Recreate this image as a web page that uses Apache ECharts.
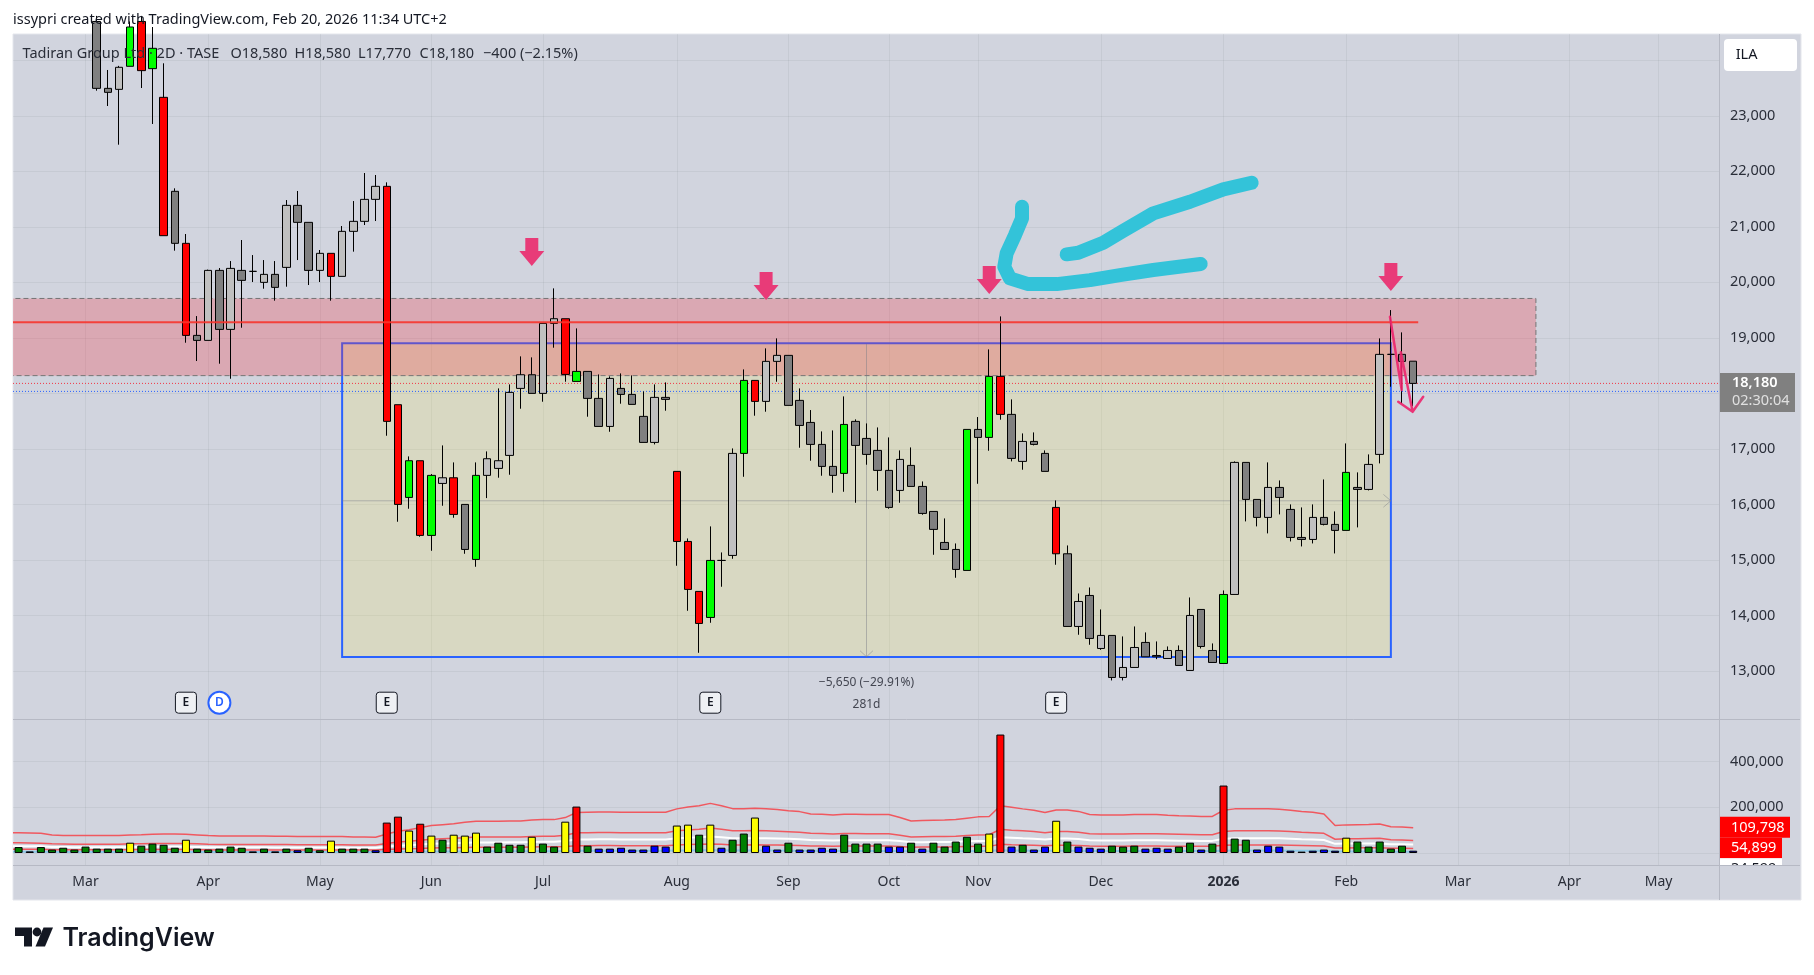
<!DOCTYPE html>
<html>
<head>
<meta charset="utf-8">
<style>
  html, body { margin: 0; padding: 0; background: #fff; }
  #chart { width: 1814px; height: 975px; }
</style>
<script src="https://cdn.jsdelivr.net/npm/echarts@6/dist/echarts.min.js"></script>
</head>
<body>
<div id="chart"></div>
<script>
// barras de 2 dias, la primera vela visible es la barra 7 (las anteriores quedan sobre el panel)
const hiddenBars = 7;
const barCount = 153;

const opens = [24700,23495,23477,23892,24700,23850,23333,21640,20703,19045,18955,20216,19153,20216,20198,20000,20144,20270,21387,21081,20216,20523,20108,20919,21099,21495,21730,17796,16126,16787,15442,16378,16480,16000,15009,16523,16649,16883,18090,18336,18000,19261,19345,18216,18396,17910,17405,18090,17982,17586,17117,17928,16595,15333,14433,13964,14991,15081,16919,18234,17856,18577,18685,17874,17477,17081,16685,16559,17496,17189,16973,16613,16252,16703,16324,15874,15315,15189,14811,17351,17207,18306,17622,16775,17135,16919,15946,15111,13802,14360,13405,13640,12883,13063,13514,13279,13225,13369,13009,14108,13369,13135,14378,16757,16090,15766,16306,15910,15405,15369,15766,15640,15532,16306,16270,16901,18703,18703,18580];
const closes = [23495,23423,23874,24600,23814,24216,20841,20703,19045,18955,20216,19153,20252,20036,20198,20144,19910,21387,21081,20216,20523,20108,20919,21099,21495,21730,17496,16000,16787,15442,16523,16480,15820,15189,16523,16823,16787,18018,18336,18000,19261,19345,18342,18396,17910,17405,18270,17982,17802,17117,17928,17892,15333,14469,13856,14991,14991,16919,18234,17856,18577,18685,17784,17423,17081,16685,16523,17441,17063,16901,16613,15946,16811,16324,15838,15550,15189,14829,17351,17207,18306,17622,16829,17135,17081,16595,15111,13802,14252,13586,13640,12883,13063,13423,13255,13255,13369,13099,14000,13441,13153,14378,16757,16090,15766,16306,16126,15405,15369,15766,15640,15532,16577,16270,16721,18703,18703,18577,18180];
const lows = [23453,23177,22480,23892,23501,22853,20841,20571,18913,18583,18955,18535,18264,19183,20006,19886,19670,19922,20402,19952,20006,19670,20108,20553,21033,21105,17237,15688,15922,15418,15165,15976,15760,15111,14877,16114,16481,16535,17724,18000,17850,18823,18210,18216,17580,17405,17309,17814,17802,17117,17081,17688,14895,14084,13327,13868,14517,15021,16498,17598,17670,18210,17784,17021,16787,16517,16210,16228,16030,16715,16246,15922,16030,16324,15814,15093,15189,14679,14811,16372,16967,17526,16775,16625,17063,16595,14913,13802,13652,13472,13381,12829,12829,13063,13255,13213,13225,13099,13009,13405,13153,13135,14378,15694,15604,15478,15820,15333,15243,15297,15622,15117,15532,15586,16252,16739,18120,17820,17770];
const highs = [24800,23826,23900,24700,24800,24600,23946,21694,20871,19393,20230,20258,20384,20763,20492,20402,20384,21483,21646,21081,20583,20523,21015,21465,21970,21934,21802,17796,16865,16787,16547,17063,16757,16000,16757,16955,18090,18162,18667,18649,19261,19892,19345,19171,18396,18342,18306,18360,18324,18036,18162,18198,16595,15387,14433,15604,15135,17009,18432,18234,18811,18991,18685,18090,17700,17315,17333,17946,17532,17459,17387,17207,16973,17027,16414,15874,15748,15297,17351,17574,18793,19387,17892,17279,17297,16973,16072,15261,14396,14504,14108,13640,13622,13802,13694,13532,13442,13460,14324,14108,13496,14450,16775,16757,16090,16757,16432,16000,15946,16000,16450,15874,17099,16577,16901,18991,19501,19099,18580];
// r rojo, g verde, u subida normal, d bajada normal
const candleKinds = ['ddugrgrdrd','ududdududd','uruuuurrgr','gurdguuuud','uurgdduddd','udrrrgdugr','uudddddgdd','ddudddddgd','grduddrdud','uduuddudud','dguddudddu','ddgduuddd'].join('');
const candleFill = { r: '#ff0000', g: '#00ff00', u: '#c0c0c0', d: '#808080' };

const volumes = [26,7,26,15,23,15,28,19,19,19,45,32,41,36,23,58,19,15,19,28,23,7,19,7,19,12,23,12,54,19,19,19,12,133,159,98,128,76,58,80,76,89,28,45,36,36,71,41,28,137,203,32,19,19,23,15,15,32,28,120,124,80,124,23,58,85,155,32,15,45,15,15,23,19,80,41,41,41,28,28,45,19,45,28,50,71,41,85,518,28,36,15,28,141,50,28,23,19,32,28,32,19,23,19,28,45,15,41,295,63,58,15,32,28,10,6,10,15,10,67,50,28,50,19,32,10];
const volumeKinds = ['gbgggggggg','yggggygggg','gbgbgbggyg','ggbrryrygy','yyggggyggy','rgbbbbbbby','ygybggybbg','bbbbggggbb','gbgggggyrb','gbbygbbbgg','gbbbggbgrg','gbbbbbbbby','gggggb'].join('');
const volumeFill = { g: '#007f00', b: '#0000ff', y: '#ffff00', r: '#ff0000' };
const upperBand = [89,88,86,79,77,76,76,76,76,76,79,80,82,83,83,82,79,76,74,74,74,74,74,73,73,72,72,72,72,72,70,70,69,83,95,102,111,120,124,128,134,139,139,139,140,140,144,146,146,155,177,178,179,179,178,178,178,178,178,193,201,207,217,207,194,194,196,193,190,185,181,171,169,166,169,169,168,168,168,155,140,142,143,144,146,152,158,160,207,200,193,187,177,188,188,182,168,166,166,166,168,168,168,165,163,162,160,160,187,193,193,193,193,191,187,181,178,171,120,123,124,125,127,115,114,110];
const midBand = [45,44,43,40,39,38,38,38,38,38,40,40,41,42,42,41,40,38,37,37,37,37,37,37,37,36,36,36,36,36,35,35,35,42,48,51,56,60,62,64,67,70,70,70,70,70,72,73,73,78,89,89,90,90,89,89,89,89,89,97,101,104,109,104,97,97,98,97,95,93,91,86,85,83,85,85,84,84,84,78,70,71,72,72,73,76,79,80,104,100,97,94,89,94,94,91,84,83,83,83,84,84,84,83,82,81,80,80,94,97,97,97,97,96,94,91,89,86,60,62,62,63,64,58,57,55];
const whiteBand = [30,29,29,26,26,25,25,25,25,25,26,27,27,28,28,27,26,25,25,25,25,25,25,24,24,24,24,24,24,24,23,23,23,28,32,34,37,40,41,43,45,46,46,46,47,47,48,49,49,52,59,59,60,60,59,59,59,59,59,64,67,69,72,69,65,65,65,64,63,62,60,57,56,55,56,56,56,56,56,52,47,47,48,48,49,51,53,53,69,67,64,62,59,63,63,61,56,55,55,55,56,56,56,55,54,54,53,53,62,64,64,64,64,64,62,60,59,57,40,41,41,42,42,38,38,37];
const lowerBand = [16,16,16,14,14,14,14,14,14,14,14,15,15,15,15,15,14,14,13,13,13,13,13,13,13,13,13,13,13,13,13,13,13,15,17,19,20,22,23,23,24,25,25,25,25,25,26,27,27,28,32,32,33,33,32,32,32,32,32,35,37,38,39,38,35,35,36,35,35,34,33,31,31,30,31,31,31,31,31,28,25,26,26,26,27,28,29,29,38,36,35,34,32,34,34,33,31,30,30,30,31,31,31,30,30,29,29,29,34,35,35,35,35,35,34,33,32,31,22,22,23,23,23,21,21,20];
const baseBand = [5,5,5,4,4,4,4,4,4,4,4,4,4,4,4,4,4,4,4,4,4,4,4,4,4,4,4,4,4,4,4,4,4,5,5,6,6,7,7,7,7,8,8,8,8,8,8,8,8,9,10,10,10,10,10,10,10,10,10,11,11,12,12,12,11,11,11,11,11,10,10,10,9,9,9,9,9,9,9,9,8,8,8,8,8,8,9,9,12,11,11,10,10,10,10,10,9,9,9,9,9,9,9,9,9,9,9,9,10,11,11,11,11,11,10,10,10,10,7,7,7,7,7,6,6,6];

const monthBars = [6,17,27,37,47,59,69,78,86,97,108,119,129,139,147];
const monthLabels = ['Mar','Apr','May','Jun','Jul','Aug','Sep','Oct','Nov','Dec','2026','Feb','Mar','Apr','May'];
const priceTicks = [13000,14000,15000,16000,17000,18000,19000,20000,21000,22000,23000,24000];
const priceLabels = [13000,14000,15000,16000,17000,18000,19000,20000,21000,22000,23000];
const volumeTicks = [0,200000,400000];
const volumeLabels = [200000,400000];

// dibujos sobre el grafico
const boxBars = [29,123], boxPrices = [18905,13250];
const zoneBars = [-1,136], zonePrices = [19710,18320];
const resistanceBars = [-0.5,125.45], resistancePrice = 19280;
const lastPrice = 18180, otherPriceLine = 18036;
const measureH = [[29,16065],[123,16065]];
const measureV = [[76,18890],[76,13250]];
const chevronRight = [[122.33,16180],[123,16065],[122.33,15950]];
const chevronDown = [[75.42,13365],[76,13255],[76.58,13365]];
const arrowBars = [46,67,87,123];
const arrowTips = [20294,19681,19789,19843];
const eventBars = [15,33,62,93,18];
const eventLetters = ['E','E','E','E','D'];
const hookStroke = [[89.94,21362],[89.94,21153],[89.31,20852],[88.56,20522],[88.35,20281],[88.86,20072],[90.5,19969],[93.05,19969],[96.03,20041],[98.72,20132],[101.7,20222],[105.95,20330]];
const tailStroke = [[93.94,20505],[94.98,20533],[97.22,20714],[99.02,20930],[101.7,21243],[104.99,21452],[107.98,21676],[110.52,21795]];
const pinkStroke = [[122.92,19380],[123.97,18059],[123.9,18739],[124.95,17668],[123.66,17849],[124.95,17668],[125.9,17939]];

const fontFamily = '"Noto Sans", sans-serif';
const gridLine = 'rgba(42,46,57,0.06)';
const paneLine = '#b6b9c4';
const textColor = '#2a2e39';
const baseFont = '14.5px ' + fontFamily;

const categories = Array.from({ length: barCount }, (_, i) => String(i));

const blanks = Array.from({ length: hiddenBars }, () => ['-', '-', '-', '-']);
const candleData = blanks.concat(opens.map((o, i) => {
  const fill = candleFill[candleKinds[i]];
  return { value: [o, closes[i], lows[i], highs[i]], itemStyle: { color: fill, color0: fill } };
}));

const lineOverlay = (name, data, style, z) => ({
  name, type: 'line', xAxisIndex: 2, yAxisIndex: 0, data, symbol: 'none', silent: true,
  z: z, animation: false, lineStyle: style
});

const rectSeries = (name, bars, prices, style, z) => ({
  name, type: 'custom', xAxisIndex: 2, yAxisIndex: 0, z: z, silent: true, clip: true,
  data: [[bars[0], prices[0]]], encode: { x: 0, y: 1 },
  renderItem: (params, api) => {
    const a = api.coord([bars[0], prices[0]]);
    const b = api.coord([bars[1], prices[1]]);
    return { type: 'rect', shape: { x: a[0], y: a[1], width: b[0] - a[0], height: b[1] - a[1] }, style: style };
  }
});

// las medias del volumen arrancan en el borde del panel
const volumeLine = (name, values, color, width) => ({
  name, type: 'line', xAxisIndex: 3, yAxisIndex: 1, z: 1, symbol: 'none', silent: true,
  data: [[-0.5, values[0] * 1000]].concat(values.map((v, i) => [i, v * 1000])),
  lineStyle: { color: color, width: width }
});

const series = [
  rectSeries('box', boxBars, boxPrices, { fill: 'rgba(255,235,59,0.17)', stroke: '#2962ff', lineWidth: 2 }, 1),
  rectSeries('zone', zoneBars, zonePrices, { fill: 'rgba(242,54,69,0.28)', stroke: '#757575', lineWidth: 1, lineDash: [5, 3] }, 1),
  lineOverlay('measureH', measureH, { color: 'rgba(120,123,134,0.45)', width: 1 }, 1),
  lineOverlay('measureV', measureV, { color: 'rgba(120,123,134,0.45)', width: 1 }, 1),
  lineOverlay('chevronRight', chevronRight, { color: 'rgba(120,123,134,0.45)', width: 1 }, 1),
  lineOverlay('chevronDown', chevronDown, { color: 'rgba(120,123,134,0.45)', width: 1 }, 1),
  lineOverlay('lastPrice', [[-0.5, lastPrice], [152.5, lastPrice]], { color: '#f23645', width: 1, type: [1, 2] }, 1),
  lineOverlay('otherPrice', [[-0.5, otherPriceLine], [152.5, otherPriceLine]], { color: '#2962ff', width: 1, type: [1, 2] }, 1),
  {
    name: 'Tadiran', type: 'candlestick', xAxisIndex: 0, yAxisIndex: 0, z: 2, clip: true, silent: true,
    barWidth: 8, data: candleData,
    itemStyle: { borderColor: '#000', borderColor0: '#000', borderColorDoji: '#000', borderWidth: 1 }
  },
  lineOverlay('resistance', resistanceBars.map(b => [b, resistancePrice]), { color: 'rgba(246,52,44,0.9)', width: 2 }, 3),
  lineOverlay('hook', hookStroke, { color: '#33c3d9', width: 14, cap: 'round', join: 'round' }, 3),
  lineOverlay('tail', tailStroke, { color: '#33c3d9', width: 14, cap: 'round', join: 'round' }, 3),
  lineOverlay('pinkArrow', pinkStroke, { color: 'rgba(236,36,108,0.9)', width: 2.5, join: 'round', cap: 'round' }, 3),
  {
    name: 'arrows', type: 'custom', xAxisIndex: 2, yAxisIndex: 0, z: 3, silent: true,
    data: arrowBars.map((b, i) => [b, arrowTips[i]]), encode: { x: 0, y: 1 },
    renderItem: (params, api) => {
      const p = api.coord([api.value(0), api.value(1)]);
      const x = p[0], y = p[1];
      return {
        type: 'polygon',
        shape: { points: [[x, y], [x - 12.5, y - 15], [x - 6.5, y - 15], [x - 6.5, y - 28], [x + 6.5, y - 28], [x + 6.5, y - 15], [x + 12.5, y - 15]] },
        style: { fill: '#e83b78' }
      };
    }
  },
  {
    name: 'measureText', type: 'custom', xAxisIndex: 2, yAxisIndex: 0, z: 3, silent: true, clip: false,
    data: [[measureV[1][0], measureV[1][1]]], encode: { x: 0, y: 1 },
    renderItem: (params, api) => {
      const p = api.coord([api.value(0), api.value(1)]);
      const label = (text, dy) => ({
        type: 'text', x: p[0], y: p[1] + dy,
        style: { text: text, fill: '#434651', font: '12px ' + fontFamily, align: 'center', verticalAlign: 'middle' }
      });
      return { type: 'group', children: [label('\u22125,650 (\u221229.91%)', 25.6), label('281d', 47.6)] };
    }
  },
  {
    name: 'events', type: 'custom', xAxisIndex: 2, yAxisIndex: 0, z: 3, silent: true, clip: false,
    data: eventBars.map(b => [b, 13000]), encode: { x: 0, y: 1 },
    renderItem: (params, api) => {
      const x = api.coord([api.value(0), 13000])[0];
      const y = params.coordSys.y + params.coordSys.height - 17;
      const letter = eventLetters[params.dataIndex];
      const isDiv = letter === 'D';
      const mark = isDiv
        ? { type: 'circle', shape: { cx: x, cy: y, r: 11 }, style: { fill: '#fff', stroke: '#2962ff', lineWidth: 2 } }
        : { type: 'rect', shape: { x: x - 10.5, y: y - 10.5, width: 21, height: 21, r: 3 }, style: { fill: '#eef0f4', stroke: '#131722', lineWidth: 1 } };
      return {
        type: 'group',
        children: [mark, {
          type: 'text', x: x, y: y,
          style: { text: letter, fill: isDiv ? '#2962ff' : '#131722', font: '600 12px ' + fontFamily, align: 'center', verticalAlign: 'middle' }
        }]
      };
    }
  },
  volumeLine('upper', upperBand, '#f0585f', 1.5),
  volumeLine('mid', midBand, '#f0585f', 1.5),
  volumeLine('white', whiteBand, '#ffffff', 2),
  volumeLine('lower', lowerBand, '#f0585f', 1.5),
  volumeLine('base', baseBand, '#8cc8e8', 2),
  {
    name: 'Volume', type: 'bar', xAxisIndex: 1, yAxisIndex: 1, z: 2, barWidth: 8, silent: true,
    data: volumes.map((v, i) => ({
      value: v * 1000,
      itemStyle: { color: volumeFill[volumeKinds[i]], borderColor: '#000', borderWidth: 1 }
    }))
  }
];

const isMonth = (index) => monthBars.includes(index);

const sideText = (text, x, y, color, font) => ({
  type: 'text', z: 50, silent: true, x: x, y: y,
  style: { text: text, fill: color, font: font || baseFont, verticalAlign: 'middle' }
});
const sideRect = (x, y, w, h, fill, r) => ({
  type: 'rect', z: 50, silent: true, shape: { x: x, y: y, width: w, height: h, r: r || 0 }, style: { fill: fill }
});
const rule = (x1, y1, x2, y2) => ({
  type: 'line', z: 51, silent: true, shape: { x1: x1, y1: y1, x2: x2, y2: y2 }, style: { stroke: paneLine, lineWidth: 1 }
});

const graphic = [
  { type: 'rect', z: -10, silent: true, shape: { x: 13, y: 34, width: 1788, height: 866 }, style: { fill: '#d1d4de', stroke: '#e4e6ec', lineWidth: 1 } },
  sideText('issypri created with TradingView.com, Feb 20, 2026 11:34 UTC+2', 13, 20, '#131722'),
  sideText('Tadiran Group Ltd \u00b7 2D \u00b7 TASE', 22.5, 54, textColor),
  sideText('O18,580', 230.5, 54, textColor),
  sideText('H18,580', 294.6, 54, textColor),
  sideText('L17,770', 358, 54, textColor),
  sideText('C18,180', 419.5, 54, textColor),
  sideText('\u2212400 (\u22122.15%)', 483, 54, textColor),
  sideRect(1724, 39, 73, 32, '#ffffff', 4),
  sideText('ILA', 1735.7, 55, '#131722'),
  sideRect(1720, 373, 75, 39, '#808080'),
  sideText('18,180', 1732, 382.7, '#ffffff', '600 14.5px ' + fontFamily),
  sideText('02:30:04', 1732, 401, '#e0e0e0'),
  sideRect(1720, 816.7, 70, 21, '#ff0000'),
  sideText('109,798', 1731, 827.5, '#ffffff'),
  sideRect(1720, 837.7, 62, 20.6, '#ff0000'),
  sideText('54,899', 1731, 848, '#ffffff'),
  sideRect(1720, 858.3, 62, 21, '#ffffff'),
  sideText('34,599', 1731, 869, '#131722'),
  sideRect(1720, 865.3, 80, 34, '#d1d4de'),
  rule(1719.5, 34, 1719.5, 900),
  rule(13, 719.5, 1800, 719.5),
  rule(13, 865.5, 1800, 865.5),
  { type: 'polygon', z: 50, silent: true, shape: { points: [[15, 927.5], [32, 927.5], [32, 946.5], [24, 946.5], [24, 936], [15, 936]] }, style: { fill: '#131722' } },
  { type: 'circle', z: 50, silent: true, shape: { cx: 37, cy: 932, r: 4.4 }, style: { fill: '#131722' } },
  { type: 'polygon', z: 50, silent: true, shape: { points: [[43.5, 927.5], [53, 927.5], [45, 946.5], [35.5, 946.5]] }, style: { fill: '#131722' } },
  sideText('TradingView', 62.5, 938.5, '#131722', '600 25px Inter, sans-serif')
];

const option = {
  animation: false,
  backgroundColor: '#ffffff',
  textStyle: { fontFamily: fontFamily },
  graphic: graphic,
  grid: [
    { left: 13, width: 1707, top: 34, height: 685.7 },
    { left: 13, width: 1707, top: 719.7, height: 145.6 }
  ],
  xAxis: [
    {
      type: 'category', gridIndex: 0, data: categories,
      axisLine: { show: false }, axisTick: { show: false, alignWithLabel: true, interval: (i) => isMonth(i) },
      axisLabel: { show: false },
      splitLine: { show: true, alignWithLabel: true, interval: (i) => isMonth(i), lineStyle: { color: gridLine } }
    },
    {
      type: 'category', gridIndex: 1, data: categories,
      axisLine: { show: false }, axisTick: { show: false, alignWithLabel: true, interval: (i) => isMonth(i) },
      axisLabel: {
        show: true, interval: (i) => isMonth(i), margin: 10, color: textColor, fontSize: 14, fontFamily: fontFamily,
        formatter: (value) => {
          const label = monthLabels[monthBars.indexOf(Number(value))];
          return label === '2026' ? '{y|2026}' : label;
        },
        rich: { y: { fontWeight: 'bold', fontSize: 14, color: textColor, fontFamily: fontFamily } }
      },
      splitLine: { show: true, alignWithLabel: true, interval: (i) => isMonth(i), lineStyle: { color: gridLine } }
    },
    { type: 'value', gridIndex: 0, show: false, min: -0.5, max: 152.5, position: 'top' },
    { type: 'value', gridIndex: 1, show: false, min: -0.5, max: 152.5, position: 'top' }
  ],
  yAxis: [
    {
      type: 'value', gridIndex: 0, position: 'right', min: 12122, max: 24474, scale: true,
      axisLine: { show: false },
      axisTick: { show: false, customValues: priceTicks },
      axisLabel: {
        margin: 10, color: textColor, fontSize: 14.5, fontFamily: fontFamily, customValues: priceLabels,
        formatter: (v) => v.toLocaleString('en-US')
      },
      splitLine: { show: true, lineStyle: { color: gridLine } }
    },
    {
      type: 'value', gridIndex: 1, position: 'right', min: -53800, max: 583000,
      axisLine: { show: false },
      axisTick: { show: false, customValues: volumeTicks },
      axisLabel: {
        margin: 10, color: textColor, fontSize: 14.5, fontFamily: fontFamily, customValues: volumeLabels,
        formatter: (v) => v.toLocaleString('en-US')
      },
      splitLine: { show: true, lineStyle: { color: gridLine } }
    }
  ],
  series: series
};

const chart = echarts.init(document.getElementById('chart'));
chart.setOption(option);
</script>
</body>
</html>
